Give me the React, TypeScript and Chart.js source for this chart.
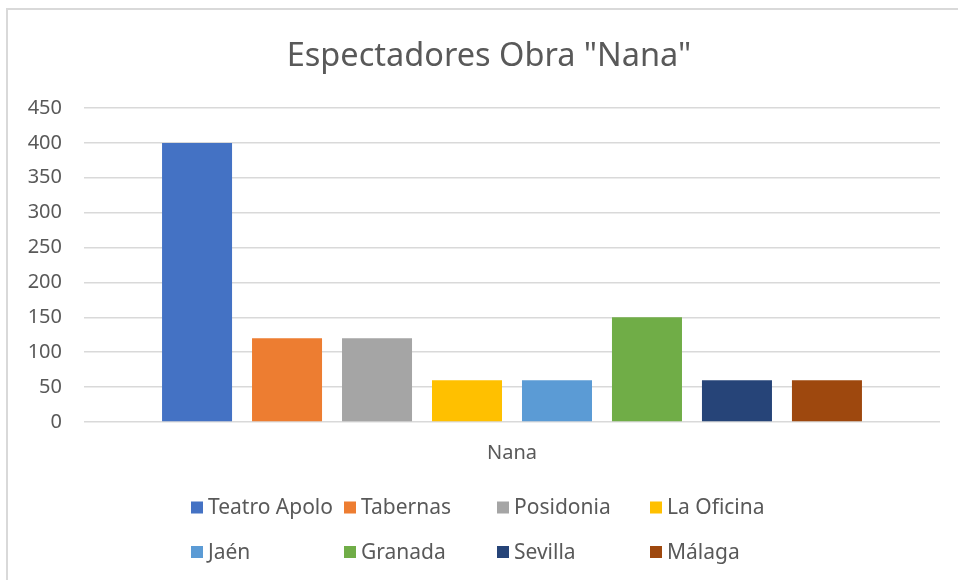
import React, { useEffect, useRef } from "react";
import { Chart, registerables } from "chart.js";

Chart.register(...registerables);

const categories = ["Nana"];
const seriesNames = ["Teatro Apolo", "Tabernas", "Posidonia", "La Oficina", "Jaén", "Granada", "Sevilla", "Málaga"];
const seriesValues = [400, 120, 120, 60, 60, 150, 60, 60];
const seriesColors = ["#4472C4", "#ED7D31", "#A5A5A5", "#FFC000", "#5B9BD5", "#70AD47", "#264478", "#9E480E"];
const titleText = 'Espectadores Obra "Nana"';
const yMin = 0;
const yMax = 450;
const yStep = 50;

const FONT = "'Noto Sans', sans-serif";
const TEXT = "#595959";

const decorations = {
  id: "decorations",
  afterDraw(chart: any) {
    const ctx = chart.ctx;
    ctx.save();
    // title
    ctx.font = `32.5px ${FONT}`;
    ctx.fillStyle = TEXT;
    ctx.textAlign = "center";
    ctx.textBaseline = "alphabetic";
    ctx.fillText(titleText, chart.width / 2, 66);
    // legend grid
    const cols = 4;
    const cellW = 153;
    const startX = chart.width / 2 - (cols * cellW) / 2;
    const rowsY = [chart.height - 72.5, chart.height - 28];
    ctx.font = `21px ${FONT}`;
    ctx.textBaseline = "middle";
    ctx.textAlign = "left";
    chart.data.datasets.forEach((ds: any, i: number) => {
      const c = i % cols;
      const r = Math.floor(i / cols);
      const bx = startX + c * cellW + 8;
      const by = rowsY[r];
      ctx.fillStyle = ds.backgroundColor;
      ctx.fillRect(bx, by - 6, 12, 12);
      ctx.fillStyle = TEXT;
      ctx.fillText(ds.label, bx + 17, by + 1);
    });
    ctx.restore();
  },
};

export default function App() {
  const ref = useRef<HTMLCanvasElement>(null);
  useEffect(() => {
    document.documentElement.style.overflow = "hidden";
    const chart = new Chart(ref.current!, {
      type: "bar",
      data: {
        labels: categories,
        datasets: seriesNames.map((name, i) => ({
          label: name,
          data: [seriesValues[i]],
          backgroundColor: seriesColors[i],
          borderWidth: 0,
          categoryPercentage: 0.841,
          barPercentage: 0.778,
        })),
      },
      options: {
        responsive: false,
        animation: false,
        devicePixelRatio: 1,
        layout: { padding: { left: 0, right: 38, top: 108, bottom: 108 } },
        plugins: {
          legend: { display: false },
          tooltip: { enabled: false },
          title: { display: false },
        },
        scales: {
          x: {
            grid: { display: false, drawTicks: false },
            border: { display: false },
            ticks: { color: TEXT, font: { family: FONT, size: 20 }, padding: 19 },
            afterFit: (s: any) => {
              s.height = 50;
            },
          },
          y: {
            min: yMin,
            max: yMax,
            grid: { color: "#d9d9d9", lineWidth: 1.5, drawTicks: false },
            border: { display: false },
            ticks: { stepSize: yStep, color: TEXT, font: { family: FONT, size: 20 }, padding: 22 },
            afterFit: (s: any) => {
              s.width = 84;
            },
          },
        },
      },
      plugins: [decorations],
    });
    return () => chart.destroy();
  }, []);
  return (
    <div style={{ position: "fixed", left: 0, top: 0, width: 958, height: 580, overflow: "hidden", background: "#fff" }}>
      <canvas ref={ref} width={978} height={580} style={{ position: "absolute", left: 0, top: 0, width: 978, height: 580 }} />
      <div
        style={{
          position: "absolute",
          left: 6,
          top: 8,
          width: 1000,
          height: 1000,
          borderLeft: "2px solid #d9d9d9",
          borderTop: "2px solid #d9d9d9",
          pointerEvents: "none",
        }}
      />
    </div>
  );
}
